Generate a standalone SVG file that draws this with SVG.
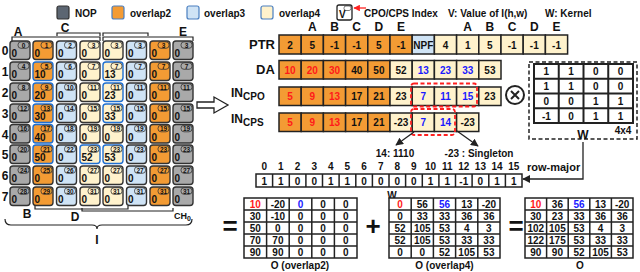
<svg xmlns="http://www.w3.org/2000/svg" width="640" height="272" viewBox="0 0 640 272">
<style>
text{font-family:"Liberation Sans",Arial,sans-serif;font-weight:bold;fill:#111}
.cell{stroke:#333;stroke-width:1.4;rx:3}
.g{fill:#A9A9A9}.o{fill:#F39B34}.b{fill:#CFE3F5}.y{fill:#FFF2CC}
.bb{stroke:#1F6FD1}
.tab{fill:none;stroke:#333;stroke-width:0.8;rx:3}
.ix{font-size:6.5px;text-anchor:middle}
.v{font-size:10px}
.lbl{font-size:12px;text-anchor:middle}
.ac{stroke:#222;stroke-width:1.5}
.at{font-size:10px;text-anchor:middle}
.red{fill:#FF1A1A}.blue{fill:#1A1AFF}
.br{fill:none;stroke:#222;stroke-width:1.2}
.rd{fill:none;stroke:#FF2020;stroke-width:1.8;stroke-dasharray:4,2.5}
.ln{fill:none;stroke:#222;stroke-width:1.3}
</style>
<defs>
<marker id="ah" viewBox="0 0 10 10" refX="9" refY="5" markerWidth="6" markerHeight="6" orient="auto"><path d="M0,0 L10,5 L0,10 z" fill="#222"/></marker>
<marker id="ahr" viewBox="0 0 10 10" refX="9" refY="5" markerWidth="5" markerHeight="5" orient="auto"><path d="M0,0 L10,5 L0,10 z" fill="#F22"/></marker>
</defs>

<g id="legend">
<rect x="57" y="6" width="12" height="13" rx="2" fill="#5C6672" stroke="#333" stroke-width="1.2"/>
<text x="75" y="16.5" font-size="10">NOP</text>
<rect x="112" y="6" width="12" height="13" rx="2" fill="#F39B34" stroke="#4A7FC0" stroke-width="1.2"/>
<text x="130" y="16.5" font-size="10">overlap2</text>
<rect x="187" y="6" width="12" height="13" rx="2" fill="#CFE3F5" stroke="#4A7FC0" stroke-width="1.2"/>
<text x="204" y="16.5" font-size="10">overlap3</text>
<rect x="261" y="6" width="12" height="13" rx="2" fill="#FFF2CC" stroke="#4A7FC0" stroke-width="1.2"/>
<text x="279" y="16.5" font-size="10">overlap4</text>
<rect x="337" y="5" width="15" height="15" rx="2" fill="#fff" stroke="#222" stroke-width="1.3"/>
<rect x="344" y="6" width="7" height="4.5" rx="2" fill="none" stroke="#222" stroke-width="0.6"/>
<text x="339" y="18" font-size="10">V</text>
<path d="M366,8 H354" fill="none" stroke="#F22" stroke-width="1.3" marker-end="url(#ahr)"/>
<text x="364" y="16.5" font-size="10">CPO/CPS Index</text>
<text x="448" y="16.5" font-size="10">V: Value of I(h,w)</text>
<text x="545" y="16.5" font-size="10">W: Kernel</text>
</g>

<g id="grid-labels">
<text class="lbl" x="18" y="36">A</text>
<text class="lbl" x="65" y="32">C</text>
<text class="lbl" x="183" y="36">E</text>
<text class="lbl" x="27" y="218">B</text>
<text class="lbl" x="75" y="221">D</text>
<text x="174" y="219" font-size="9">CH<tspan font-size="7" dy="2">0</tspan></text>
<text class="lbl" x="97" y="244">I</text>
<text class="lbl" x="5" y="55">0</text>
<text class="lbl" x="5" y="76">1</text>
<text class="lbl" x="5" y="97">2</text>
<text class="lbl" x="5" y="118">3</text>
<text class="lbl" x="5" y="138.5">4</text>
<text class="lbl" x="5" y="159">5</text>
<text class="lbl" x="5" y="180">6</text>
<text class="lbl" x="5" y="201">7</text>
<path class="br" d="M12,41 V37 H100 V41"/>
<path class="br" d="M57,36 V33 H100 V36"/>
<path class="br" d="M103,36 V33 H148 V36"/>
<path class="br" d="M103,41 V37 H193 V41"/>
<path class="br" d="M35,206 V209 H128 V206"/>
<path class="br" d="M82,208 V211 H173 V208"/>
<path class="br" d="M5,219 Q5,225 11,225 H92 Q97,225 97,229 Q97,225 102,225 H186 Q192,225 192,219"/>
</g>

<g id="grid">
<g id="c0-0" transform="translate(10,41)"><rect class="cell g" width="20" height="18.5"/><rect class="tab" x="8" y="0.8" width="11" height="6.5"/><text class="ix" x="13.5" y="6.5">0</text><text class="v" x="1.5" y="16">0</text></g>
<g id="c0-1" transform="translate(33,41)"><rect class="cell o" width="20" height="18.5"/><rect class="tab" x="8" y="0.8" width="11" height="6.5"/><text class="ix" x="13.5" y="6.5">1</text><text class="v" x="1.5" y="16">0</text></g>
<g id="c0-2" transform="translate(56.5,41)"><rect class="cell b" width="20" height="18.5"/><rect class="tab" x="8" y="0.8" width="11" height="6.5"/><text class="ix" x="13.5" y="6.5">2</text><text class="v" x="1.5" y="16">0</text></g>
<g id="c0-3" transform="translate(80,41)"><rect class="cell y" width="20" height="18.5"/><rect class="tab" x="8" y="0.8" width="11" height="6.5"/><text class="ix" x="13.5" y="6.5">3</text><text class="v" x="1.5" y="16">0</text></g>
<g id="c0-4" transform="translate(103,41)"><rect class="cell y" width="20" height="18.5"/><rect class="tab" x="8" y="0.8" width="11" height="6.5"/><text class="ix" x="13.5" y="6.5">3</text><text class="v" x="1.5" y="16">0</text></g>
<g id="c0-5" transform="translate(126.5,41)"><rect class="cell b" width="20" height="18.5"/><rect class="tab" x="8" y="0.8" width="11" height="6.5"/><text class="ix" x="13.5" y="6.5">3</text><text class="v" x="1.5" y="16">0</text></g>
<g id="c0-6" transform="translate(150,41)"><rect class="cell o" width="20" height="18.5"/><rect class="tab" x="8" y="0.8" width="11" height="6.5"/><text class="ix" x="13.5" y="6.5">3</text><text class="v" x="1.5" y="16">0</text></g>
<g id="c0-7" transform="translate(173,41)"><rect class="cell g" width="20" height="18.5"/><rect class="tab" x="8" y="0.8" width="11" height="6.5"/><text class="ix" x="13.5" y="6.5">3</text><text class="v" x="1.5" y="16">0</text></g>

<g id="c1-0" transform="translate(10,62)"><rect class="cell g" width="20" height="18.5"/><rect class="tab" x="8" y="0.8" width="11" height="6.5"/><text class="ix" x="13.5" y="6.5">4</text><text class="v" x="1.5" y="16">0</text></g>
<g id="c1-1" transform="translate(33,62)"><rect class="cell o bb" width="20" height="18.5"/><rect class="tab" x="8" y="0.8" width="11" height="6.5"/><text class="ix" x="13.5" y="6.5">5</text><text class="v" x="1.5" y="16">10</text></g>
<g id="c1-2" transform="translate(56.5,62)"><rect class="cell b" width="20" height="18.5"/><rect class="tab" x="8" y="0.8" width="11" height="6.5"/><text class="ix" x="13.5" y="6.5">6</text><text class="v" x="1.5" y="16">0</text></g>
<g id="c1-3" transform="translate(80,62)"><rect class="cell y" width="20" height="18.5"/><rect class="tab" x="8" y="0.8" width="11" height="6.5"/><text class="ix" x="13.5" y="6.5">7</text><text class="v" x="1.5" y="16">0</text></g>
<g id="c1-4" transform="translate(103,62)"><rect class="cell y bb" width="20" height="18.5"/><rect class="tab" x="8" y="0.8" width="11" height="6.5"/><text class="ix" x="13.5" y="6.5">7</text><text class="v" x="1.5" y="16">13</text></g>
<g id="c1-5" transform="translate(126.5,62)"><rect class="cell b" width="20" height="18.5"/><rect class="tab" x="8" y="0.8" width="11" height="6.5"/><text class="ix" x="13.5" y="6.5">7</text><text class="v" x="1.5" y="16">0</text></g>
<g id="c1-6" transform="translate(150,62)"><rect class="cell o" width="20" height="18.5"/><rect class="tab" x="8" y="0.8" width="11" height="6.5"/><text class="ix" x="13.5" y="6.5">7</text><text class="v" x="1.5" y="16">0</text></g>
<g id="c1-7" transform="translate(173,62)"><rect class="cell g" width="20" height="18.5"/><rect class="tab" x="8" y="0.8" width="11" height="6.5"/><text class="ix" x="13.5" y="6.5">7</text><text class="v" x="1.5" y="16">0</text></g>

<g id="c2-0" transform="translate(10,83)"><rect class="cell g" width="20" height="18.5"/><rect class="tab" x="8" y="0.8" width="11" height="6.5"/><text class="ix" x="13.5" y="6.5">8</text><text class="v" x="1.5" y="16">0</text></g>
<g id="c2-1" transform="translate(33,83)"><rect class="cell o bb" width="20" height="18.5"/><rect class="tab" x="8" y="0.8" width="11" height="6.5"/><text class="ix" x="13.5" y="6.5">9</text><text class="v" x="1.5" y="16">20</text></g>
<g id="c2-2" transform="translate(56.5,83)"><rect class="cell b" width="20" height="18.5"/><rect class="tab" x="8" y="0.8" width="11" height="6.5"/><text class="ix" x="13.5" y="6.5">10</text><text class="v" x="1.5" y="16">0</text></g>
<g id="c2-3" transform="translate(80,83)"><rect class="cell y" width="20" height="18.5"/><rect class="tab" x="8" y="0.8" width="11" height="6.5"/><text class="ix" x="13.5" y="6.5">11</text><text class="v" x="1.5" y="16">0</text></g>
<g id="c2-4" transform="translate(103,83)"><rect class="cell y bb" width="20" height="18.5"/><rect class="tab" x="8" y="0.8" width="11" height="6.5"/><text class="ix" x="13.5" y="6.5">11</text><text class="v" x="1.5" y="16">23</text></g>
<g id="c2-5" transform="translate(126.5,83)"><rect class="cell b" width="20" height="18.5"/><rect class="tab" x="8" y="0.8" width="11" height="6.5"/><text class="ix" x="13.5" y="6.5">11</text><text class="v" x="1.5" y="16">0</text></g>
<g id="c2-6" transform="translate(150,83)"><rect class="cell o" width="20" height="18.5"/><rect class="tab" x="8" y="0.8" width="11" height="6.5"/><text class="ix" x="13.5" y="6.5">11</text><text class="v" x="1.5" y="16">0</text></g>
<g id="c2-7" transform="translate(173,83)"><rect class="cell g" width="20" height="18.5"/><rect class="tab" x="8" y="0.8" width="11" height="6.5"/><text class="ix" x="13.5" y="6.5">11</text><text class="v" x="1.5" y="16">0</text></g>

<g id="c3-0" transform="translate(10,104)"><rect class="cell g" width="20" height="18.5"/><rect class="tab" x="8" y="0.8" width="11" height="6.5"/><text class="ix" x="13.5" y="6.5">12</text><text class="v" x="1.5" y="16">0</text></g>
<g id="c3-1" transform="translate(33,104)"><rect class="cell o bb" width="20" height="18.5"/><rect class="tab" x="8" y="0.8" width="11" height="6.5"/><text class="ix" x="13.5" y="6.5">13</text><text class="v" x="1.5" y="16">30</text></g>
<g id="c3-2" transform="translate(56.5,104)"><rect class="cell b" width="20" height="18.5"/><rect class="tab" x="8" y="0.8" width="11" height="6.5"/><text class="ix" x="13.5" y="6.5">14</text><text class="v" x="1.5" y="16">0</text></g>
<g id="c3-3" transform="translate(80,104)"><rect class="cell y" width="20" height="18.5"/><rect class="tab" x="8" y="0.8" width="11" height="6.5"/><text class="ix" x="13.5" y="6.5">15</text><text class="v" x="1.5" y="16">0</text></g>
<g id="c3-4" transform="translate(103,104)"><rect class="cell y bb" width="20" height="18.5"/><rect class="tab" x="8" y="0.8" width="11" height="6.5"/><text class="ix" x="13.5" y="6.5">15</text><text class="v" x="1.5" y="16">33</text></g>
<g id="c3-5" transform="translate(126.5,104)"><rect class="cell b" width="20" height="18.5"/><rect class="tab" x="8" y="0.8" width="11" height="6.5"/><text class="ix" x="13.5" y="6.5">15</text><text class="v" x="1.5" y="16">0</text></g>
<g id="c3-6" transform="translate(150,104)"><rect class="cell o" width="20" height="18.5"/><rect class="tab" x="8" y="0.8" width="11" height="6.5"/><text class="ix" x="13.5" y="6.5">15</text><text class="v" x="1.5" y="16">0</text></g>
<g id="c3-7" transform="translate(173,104)"><rect class="cell g" width="20" height="18.5"/><rect class="tab" x="8" y="0.8" width="11" height="6.5"/><text class="ix" x="13.5" y="6.5">15</text><text class="v" x="1.5" y="16">0</text></g>

<g id="c4-0" transform="translate(10,124.5)"><rect class="cell g" width="20" height="18.5"/><rect class="tab" x="8" y="0.8" width="11" height="6.5"/><text class="ix" x="13.5" y="6.5">16</text><text class="v" x="1.5" y="16">0</text></g>
<g id="c4-1" transform="translate(33,124.5)"><rect class="cell o bb" width="20" height="18.5"/><rect class="tab" x="8" y="0.8" width="11" height="6.5"/><text class="ix" x="13.5" y="6.5">17</text><text class="v" x="1.5" y="16">40</text></g>
<g id="c4-2" transform="translate(56.5,124.5)"><rect class="cell b" width="20" height="18.5"/><rect class="tab" x="8" y="0.8" width="11" height="6.5"/><text class="ix" x="13.5" y="6.5">18</text><text class="v" x="1.5" y="16">0</text></g>
<g id="c4-3" transform="translate(80,124.5)"><rect class="cell y" width="20" height="18.5"/><rect class="tab" x="8" y="0.8" width="11" height="6.5"/><text class="ix" x="13.5" y="6.5">19</text><text class="v" x="1.5" y="16">0</text></g>
<g id="c4-4" transform="translate(103,124.5)"><rect class="cell y" width="20" height="18.5"/><rect class="tab" x="8" y="0.8" width="11" height="6.5"/><text class="ix" x="13.5" y="6.5">19</text><text class="v" x="1.5" y="16">0</text></g>
<g id="c4-5" transform="translate(126.5,124.5)"><rect class="cell b" width="20" height="18.5"/><rect class="tab" x="8" y="0.8" width="11" height="6.5"/><text class="ix" x="13.5" y="6.5">19</text><text class="v" x="1.5" y="16">0</text></g>
<g id="c4-6" transform="translate(150,124.5)"><rect class="cell o" width="20" height="18.5"/><rect class="tab" x="8" y="0.8" width="11" height="6.5"/><text class="ix" x="13.5" y="6.5">19</text><text class="v" x="1.5" y="16">0</text></g>
<g id="c4-7" transform="translate(173,124.5)"><rect class="cell g" width="20" height="18.5"/><rect class="tab" x="8" y="0.8" width="11" height="6.5"/><text class="ix" x="13.5" y="6.5">19</text><text class="v" x="1.5" y="16">0</text></g>

<g id="c5-0" transform="translate(10,145)"><rect class="cell g" width="20" height="18.5"/><rect class="tab" x="8" y="0.8" width="11" height="6.5"/><text class="ix" x="13.5" y="6.5">20</text><text class="v" x="1.5" y="16">0</text></g>
<g id="c5-1" transform="translate(33,145)"><rect class="cell o bb" width="20" height="18.5"/><rect class="tab" x="8" y="0.8" width="11" height="6.5"/><text class="ix" x="13.5" y="6.5">21</text><text class="v" x="1.5" y="16">50</text></g>
<g id="c5-2" transform="translate(56.5,145)"><rect class="cell b" width="20" height="18.5"/><rect class="tab" x="8" y="0.8" width="11" height="6.5"/><text class="ix" x="13.5" y="6.5">22</text><text class="v" x="1.5" y="16">0</text></g>
<g id="c5-3" transform="translate(80,145)"><rect class="cell y bb" width="20" height="18.5"/><rect class="tab" x="8" y="0.8" width="11" height="6.5"/><text class="ix" x="13.5" y="6.5">23</text><text class="v" x="1.5" y="16">52</text></g>
<g id="c5-4" transform="translate(103,145)"><rect class="cell y bb" width="20" height="18.5"/><rect class="tab" x="8" y="0.8" width="11" height="6.5"/><text class="ix" x="13.5" y="6.5">23</text><text class="v" x="1.5" y="16">53</text></g>
<g id="c5-5" transform="translate(126.5,145)"><rect class="cell b" width="20" height="18.5"/><rect class="tab" x="8" y="0.8" width="11" height="6.5"/><text class="ix" x="13.5" y="6.5">23</text><text class="v" x="1.5" y="16">0</text></g>
<g id="c5-6" transform="translate(150,145)"><rect class="cell o" width="20" height="18.5"/><rect class="tab" x="8" y="0.8" width="11" height="6.5"/><text class="ix" x="13.5" y="6.5">23</text><text class="v" x="1.5" y="16">0</text></g>
<g id="c5-7" transform="translate(173,145)"><rect class="cell g" width="20" height="18.5"/><rect class="tab" x="8" y="0.8" width="11" height="6.5"/><text class="ix" x="13.5" y="6.5">23</text><text class="v" x="1.5" y="16">0</text></g>

<g id="c6-0" transform="translate(10,166)"><rect class="cell g" width="20" height="18.5"/><rect class="tab" x="8" y="0.8" width="11" height="6.5"/><text class="ix" x="13.5" y="6.5">24</text><text class="v" x="1.5" y="16">0</text></g>
<g id="c6-1" transform="translate(33,166)"><rect class="cell o" width="20" height="18.5"/><rect class="tab" x="8" y="0.8" width="11" height="6.5"/><text class="ix" x="13.5" y="6.5">25</text><text class="v" x="1.5" y="16">0</text></g>
<g id="c6-2" transform="translate(56.5,166)"><rect class="cell b" width="20" height="18.5"/><rect class="tab" x="8" y="0.8" width="11" height="6.5"/><text class="ix" x="13.5" y="6.5">26</text><text class="v" x="1.5" y="16">0</text></g>
<g id="c6-3" transform="translate(80,166)"><rect class="cell y" width="20" height="18.5"/><rect class="tab" x="8" y="0.8" width="11" height="6.5"/><text class="ix" x="13.5" y="6.5">27</text><text class="v" x="1.5" y="16">0</text></g>
<g id="c6-4" transform="translate(103,166)"><rect class="cell y" width="20" height="18.5"/><rect class="tab" x="8" y="0.8" width="11" height="6.5"/><text class="ix" x="13.5" y="6.5">27</text><text class="v" x="1.5" y="16">0</text></g>
<g id="c6-5" transform="translate(126.5,166)"><rect class="cell b" width="20" height="18.5"/><rect class="tab" x="8" y="0.8" width="11" height="6.5"/><text class="ix" x="13.5" y="6.5">27</text><text class="v" x="1.5" y="16">0</text></g>
<g id="c6-6" transform="translate(150,166)"><rect class="cell o" width="20" height="18.5"/><rect class="tab" x="8" y="0.8" width="11" height="6.5"/><text class="ix" x="13.5" y="6.5">27</text><text class="v" x="1.5" y="16">0</text></g>
<g id="c6-7" transform="translate(173,166)"><rect class="cell g" width="20" height="18.5"/><rect class="tab" x="8" y="0.8" width="11" height="6.5"/><text class="ix" x="13.5" y="6.5">27</text><text class="v" x="1.5" y="16">0</text></g>

<g id="c7-0" transform="translate(10,187)"><rect class="cell g" width="20" height="18.5"/><rect class="tab" x="8" y="0.8" width="11" height="6.5"/><text class="ix" x="13.5" y="6.5">28</text><text class="v" x="1.5" y="16">0</text></g>
<g id="c7-1" transform="translate(33,187)"><rect class="cell o" width="20" height="18.5"/><rect class="tab" x="8" y="0.8" width="11" height="6.5"/><text class="ix" x="13.5" y="6.5">29</text><text class="v" x="1.5" y="16">0</text></g>
<g id="c7-2" transform="translate(56.5,187)"><rect class="cell b" width="20" height="18.5"/><rect class="tab" x="8" y="0.8" width="11" height="6.5"/><text class="ix" x="13.5" y="6.5">30</text><text class="v" x="1.5" y="16">0</text></g>
<g id="c7-3" transform="translate(80,187)"><rect class="cell y" width="20" height="18.5"/><rect class="tab" x="8" y="0.8" width="11" height="6.5"/><text class="ix" x="13.5" y="6.5">31</text><text class="v" x="1.5" y="16">0</text></g>
<g id="c7-4" transform="translate(103,187)"><rect class="cell y" width="20" height="18.5"/><rect class="tab" x="8" y="0.8" width="11" height="6.5"/><text class="ix" x="13.5" y="6.5">31</text><text class="v" x="1.5" y="16">0</text></g>
<g id="c7-5" transform="translate(126.5,187)"><rect class="cell b" width="20" height="18.5"/><rect class="tab" x="8" y="0.8" width="11" height="6.5"/><text class="ix" x="13.5" y="6.5">31</text><text class="v" x="1.5" y="16">0</text></g>
<g id="c7-6" transform="translate(150,187)"><rect class="cell o" width="20" height="18.5"/><rect class="tab" x="8" y="0.8" width="11" height="6.5"/><text class="ix" x="13.5" y="6.5">31</text><text class="v" x="1.5" y="16">0</text></g>
<g id="c7-7" transform="translate(173,187)"><rect class="cell g" width="20" height="18.5"/><rect class="tab" x="8" y="0.8" width="11" height="6.5"/><text class="ix" x="13.5" y="6.5">31</text><text class="v" x="1.5" y="16">0</text></g>
</g>

<g id="hollow-arrow">
<path d="M197,102 H214 V97 L228,105 L214,113 V108 H197 Z" fill="#fff" stroke="#222" stroke-width="1.3"/>
</g>

<g id="ptr">
<text x="249" y="49" font-size="13">PTR</text>
<text class="lbl" x="312.3" y="31">A</text><text class="lbl" x="334.5" y="31">B</text><text class="lbl" x="356.7" y="31">C</text><text class="lbl" x="378.9" y="31">D</text><text class="lbl" x="401.1" y="31">E</text>
<text class="lbl" x="467.7" y="31">A</text><text class="lbl" x="489.9" y="31">B</text><text class="lbl" x="512.1" y="31">C</text><text class="lbl" x="534.3" y="31">D</text><text class="lbl" x="556.5" y="31">E</text>
<rect class="ac o" x="279" y="35" width="22.2" height="19"/><rect class="ac o" x="301.2" y="35" width="22.2" height="19"/><rect class="ac o" x="323.4" y="35" width="22.2" height="19"/><rect class="ac o" x="345.6" y="35" width="22.2" height="19"/><rect class="ac o" x="367.8" y="35" width="22.2" height="19"/><rect class="ac o" x="390" y="35" width="22.2" height="19"/>
<rect class="ac b" x="412.2" y="35" width="22.2" height="19"/>
<rect class="ac y" x="434.4" y="35" width="22.2" height="19"/><rect class="ac y" x="456.6" y="35" width="22.2" height="19"/><rect class="ac y" x="478.8" y="35" width="22.2" height="19"/><rect class="ac y" x="501" y="35" width="22.2" height="19"/><rect class="ac y" x="523.2" y="35" width="22.2" height="19"/><rect class="ac y" x="545.4" y="35" width="22.2" height="19"/>
<text class="at" x="290.1" y="48.5">2</text><text class="at" x="312.3" y="48.5">5</text><text class="at" x="334.5" y="48.5">-1</text><text class="at" x="356.7" y="48.5">-1</text><text class="at" x="378.9" y="48.5">5</text><text class="at" x="401.1" y="48.5">-1</text><text class="at" x="423.3" y="48.5">NPF</text><text class="at" x="445.5" y="48.5">4</text><text class="at" x="467.7" y="48.5">1</text><text class="at" x="489.9" y="48.5">5</text><text class="at" x="512.1" y="48.5">-1</text><text class="at" x="534.3" y="48.5">-1</text><text class="at" x="556.5" y="48.5">-1</text>
</g>

<g id="da">
<text x="256" y="74" font-size="13">DA</text>
<rect class="ac o" x="279" y="60.5" width="22.2" height="18.5"/><rect class="ac o" x="301.2" y="60.5" width="22.2" height="18.5"/><rect class="ac o" x="323.4" y="60.5" width="22.2" height="18.5"/><rect class="ac o" x="345.6" y="60.5" width="22.2" height="18.5"/><rect class="ac o" x="367.8" y="60.5" width="22.2" height="18.5"/>
<rect class="ac y" x="390" y="60.5" width="22.2" height="18.5"/><rect class="ac y" x="412.2" y="60.5" width="22.2" height="18.5"/><rect class="ac y" x="434.4" y="60.5" width="22.2" height="18.5"/><rect class="ac y" x="456.6" y="60.5" width="22.2" height="18.5"/><rect class="ac y" x="478.8" y="60.5" width="22.2" height="18.5"/>
<text class="at red" x="290.1" y="73.5">10</text><text class="at red" x="312.3" y="73.5">20</text><text class="at red" x="334.5" y="73.5">30</text><text class="at" x="356.7" y="73.5">40</text><text class="at" x="378.9" y="73.5">50</text><text class="at" x="401.1" y="73.5">52</text><text class="at blue" x="423.3" y="73.5">13</text><text class="at blue" x="445.5" y="73.5">23</text><text class="at blue" x="467.7" y="73.5">33</text><text class="at" x="489.9" y="73.5">53</text>
</g>

<g id="incpo">
<text x="231" y="97" font-size="12">IN<tspan font-size="10" dy="3">CPO</tspan></text>
<rect class="ac o" x="279" y="87" width="22.2" height="18.5"/><rect class="ac o" x="301.2" y="87" width="22.2" height="18.5"/><rect class="ac o" x="323.4" y="87" width="22.2" height="18.5"/><rect class="ac o" x="345.6" y="87" width="22.2" height="18.5"/><rect class="ac o" x="367.8" y="87" width="22.2" height="18.5"/>
<rect class="ac y" x="390" y="87" width="22.2" height="18.5"/><rect class="ac y" x="412.2" y="87" width="22.2" height="18.5"/><rect class="ac y" x="434.4" y="87" width="22.2" height="18.5"/><rect class="ac y" x="456.6" y="87" width="22.2" height="18.5"/><rect class="ac y" x="478.8" y="87" width="22.2" height="18.5"/>
<text class="at red" x="290.1" y="100">5</text><text class="at red" x="312.3" y="100">9</text><text class="at red" x="334.5" y="100">13</text><text class="at" x="356.7" y="100">17</text><text class="at" x="378.9" y="100">21</text><text class="at" x="401.1" y="100">23</text><text class="at blue" x="423.3" y="100">7</text><text class="at blue" x="445.5" y="100">11</text><text class="at blue" x="467.7" y="100">15</text><text class="at" x="489.9" y="100">23</text>
<rect class="rd" x="411" y="83.5" width="66" height="23" rx="3"/>
</g>

<g id="incps">
<text x="231" y="123" font-size="12">IN<tspan font-size="10" dy="3">CPS</tspan></text>
<rect class="ac o" x="279" y="113" width="22.2" height="18.5"/><rect class="ac o" x="301.2" y="113" width="22.2" height="18.5"/><rect class="ac o" x="323.4" y="113" width="22.2" height="18.5"/><rect class="ac o" x="345.6" y="113" width="22.2" height="18.5"/><rect class="ac o" x="367.8" y="113" width="22.2" height="18.5"/>
<rect class="ac y" x="390" y="113" width="22.2" height="18.5"/><rect class="ac y" x="412.2" y="113" width="22.2" height="18.5"/><rect class="ac y" x="434.4" y="113" width="22.2" height="18.5"/><rect class="ac y" x="456.6" y="113" width="22.2" height="18.5"/>
<text class="at red" x="290.1" y="126">5</text><text class="at red" x="312.3" y="126">9</text><text class="at red" x="334.5" y="126">13</text><text class="at" x="356.7" y="126">17</text><text class="at" x="378.9" y="126">21</text><text class="at" x="401.1" y="126">-23</text><text class="at blue" x="423.3" y="126">7</text><text class="at blue" x="445.5" y="126">14</text><text class="at" x="467.7" y="126">-23</text>
<rect class="rd" x="411" y="109" width="44" height="26" rx="3"/>
<text class="at" x="395" y="157">14: 1110</text>
<text class="at" x="479" y="157">-23 : Singleton</text>
</g>

<g id="otimes">
<circle cx="515" cy="95" r="9" fill="#fff" stroke="#222" stroke-width="2"/>
<path d="M511,91 L519,99 M519,91 L511,99" stroke="#222" stroke-width="2"/>
</g>

<g id="kernel">
<rect x="529" y="62" width="108" height="77" fill="none" stroke="#222" stroke-width="1.5" stroke-dasharray="4,2.5"/>
<rect x="534" y="64" width="99" height="59" fill="#fff" stroke="#222" stroke-width="2"/>
<path d="M558.75,64 V123 M583.5,64 V123 M608.25,64 V123 M534,78.75 H633 M534,93.5 H633 M534,108.25 H633" stroke="#222" stroke-width="2"/>
<text class="at" x="546.4" y="75.4">1</text><text class="at" x="571.1" y="75.4">1</text><text class="at" x="595.9" y="75.4">0</text><text class="at" x="620.6" y="75.4">0</text>
<text class="at" x="546.4" y="90.1">1</text><text class="at" x="571.1" y="90.1">1</text><text class="at" x="595.9" y="90.1">0</text><text class="at" x="620.6" y="90.1">0</text>
<text class="at" x="546.4" y="104.9">0</text><text class="at" x="571.1" y="104.9">0</text><text class="at" x="595.9" y="104.9">1</text><text class="at" x="620.6" y="104.9">1</text>
<text class="at" x="546.4" y="119.6">-1</text><text class="at" x="571.1" y="119.6">0</text><text class="at" x="595.9" y="119.6">1</text><text class="at" x="620.6" y="119.6">1</text>
<text class="lbl" x="583" y="139">W</text>
<text class="at" x="623" y="134">4x4</text>
</g>

<g id="rowmajor">
<text x="527" y="171" font-size="11">row-major</text>
<text class="at" x="264.3" y="170" font-size="9">0</text><text class="at" x="280.9" y="170" font-size="9">1</text><text class="at" x="297.6" y="170" font-size="9">2</text><text class="at" x="314.2" y="170" font-size="9">3</text><text class="at" x="330.8" y="170" font-size="9">4</text><text class="at" x="347.4" y="170" font-size="9">5</text><text class="at" x="364.1" y="170" font-size="9">6</text><text class="at" x="380.7" y="170" font-size="9">7</text><text class="at" x="397.3" y="170" font-size="9">8</text><text class="at" x="413.9" y="170" font-size="9">9</text><text class="at" x="430.6" y="170" font-size="9">10</text><text class="at" x="447.2" y="170" font-size="9">11</text><text class="at" x="463.8" y="170" font-size="9">12</text><text class="at" x="480.4" y="170" font-size="9">13</text><text class="at" x="497.1" y="170" font-size="9">14</text><text class="at" x="513.7" y="170" font-size="9">15</text>
<rect x="256" y="174" width="266" height="13" fill="#fff" stroke="#222" stroke-width="1.5"/>
<path d="M272.6,174 V187 M289.3,174 V187 M305.9,174 V187 M322.5,174 V187 M339.1,174 V187 M355.8,174 V187 M372.4,174 V187 M389,174 V187 M405.6,174 V187 M422.3,174 V187 M438.9,174 V187 M455.5,174 V187 M472.1,174 V187 M488.8,174 V187 M505.4,174 V187" stroke="#222" stroke-width="1.5"/>
<text class="at" x="264.3" y="184.5">1</text><text class="at" x="280.9" y="184.5">1</text><text class="at" x="297.6" y="184.5">0</text><text class="at" x="314.2" y="184.5">0</text><text class="at" x="330.8" y="184.5">1</text><text class="at" x="347.4" y="184.5">1</text><text class="at" x="364.1" y="184.5">0</text><text class="at" x="380.7" y="184.5">0</text><text class="at" x="397.3" y="184.5">0</text><text class="at" x="413.9" y="184.5">0</text><text class="at" x="430.6" y="184.5">1</text><text class="at" x="447.2" y="184.5">1</text><text class="at" x="463.8" y="184.5">-1</text><text class="at" x="480.4" y="184.5">0</text><text class="at" x="497.1" y="184.5">1</text><text class="at" x="513.7" y="184.5">1</text>
<text class="at" x="392" y="199" font-size="11">W</text>
</g>

<g id="connectors">
<path class="ln" d="M414,132 L396,145" marker-end="url(#ah)"/>
<path class="ln" d="M457,131 L478,146" marker-end="url(#ah)"/>
<path class="ln" d="M583,142 V179 H523" marker-end="url(#ah)"/>
</g>

<g id="ops">
<text x="230" y="235" font-size="26" text-anchor="middle">=</text>
<text x="373" y="235" font-size="26" text-anchor="middle">+</text>
<text x="516" y="235" font-size="26" text-anchor="middle">=</text>
</g>

<g id="o-overlap2">
<rect x="244" y="198" width="113" height="60" fill="#fff" stroke="#222" stroke-width="1.5"/>
<path d="M266.6,198 V258 M289.2,198 V258 M311.8,198 V258 M334.4,198 V258 M244,210 H357 M244,222 H357 M244,234 H357 M244,246 H357" stroke="#222" stroke-width="1.5"/>
<text class="at red" x="255.3" y="208">10</text><text class="at" x="277.9" y="208">-20</text><text class="at blue" x="300.5" y="208">0</text><text class="at" x="323.1" y="208">0</text><text class="at" x="345.7" y="208">0</text>
<text class="at" x="255.3" y="220">30</text><text class="at" x="277.9" y="220">-10</text><text class="at" x="300.5" y="220">0</text><text class="at" x="323.1" y="220">0</text><text class="at" x="345.7" y="220">0</text>
<text class="at" x="255.3" y="232">50</text><text class="at" x="277.9" y="232">0</text><text class="at" x="300.5" y="232">0</text><text class="at" x="323.1" y="232">0</text><text class="at" x="345.7" y="232">0</text>
<text class="at" x="255.3" y="244">70</text><text class="at" x="277.9" y="244">70</text><text class="at" x="300.5" y="244">0</text><text class="at" x="323.1" y="244">0</text><text class="at" x="345.7" y="244">0</text>
<text class="at" x="255.3" y="256">90</text><text class="at" x="277.9" y="256">90</text><text class="at" x="300.5" y="256">0</text><text class="at" x="323.1" y="256">0</text><text class="at" x="345.7" y="256">0</text>
<text class="at" x="300" y="269">O (overlap2)</text>
</g>

<g id="o-overlap4">
<rect x="389" y="198" width="111" height="60" fill="#fff" stroke="#222" stroke-width="1.5"/>
<path d="M411.2,198 V258 M433.4,198 V258 M455.6,198 V258 M477.8,198 V258 M389,210 H500 M389,222 H500 M389,234 H500 M389,246 H500" stroke="#222" stroke-width="1.5"/>
<text class="at red" x="400.1" y="208">0</text><text class="at" x="422.3" y="208">56</text><text class="at blue" x="444.5" y="208">56</text><text class="at" x="466.7" y="208">13</text><text class="at" x="488.9" y="208">-20</text>
<text class="at" x="400.1" y="220">0</text><text class="at" x="422.3" y="220">33</text><text class="at" x="444.5" y="220">33</text><text class="at" x="466.7" y="220">36</text><text class="at" x="488.9" y="220">36</text>
<text class="at" x="400.1" y="232">52</text><text class="at" x="422.3" y="232">105</text><text class="at" x="444.5" y="232">53</text><text class="at" x="466.7" y="232">4</text><text class="at" x="488.9" y="232">3</text>
<text class="at" x="400.1" y="244">52</text><text class="at" x="422.3" y="244">105</text><text class="at" x="444.5" y="244">53</text><text class="at" x="466.7" y="244">33</text><text class="at" x="488.9" y="244">33</text>
<text class="at" x="400.1" y="256">0</text><text class="at" x="422.3" y="256">0</text><text class="at" x="444.5" y="256">52</text><text class="at" x="466.7" y="256">105</text><text class="at" x="488.9" y="256">53</text>
<text class="at" x="444.5" y="269">O (overlap4)</text>
</g>

<g id="o-total">
<rect x="525" y="198" width="108" height="60" fill="#fff" stroke="#222" stroke-width="1.5"/>
<path d="M546.6,198 V258 M568.2,198 V258 M589.8,198 V258 M611.4,198 V258 M525,210 H633 M525,222 H633 M525,234 H633 M525,246 H633" stroke="#222" stroke-width="1.5"/>
<text class="at red" x="535.8" y="208">10</text><text class="at" x="557.4" y="208">36</text><text class="at blue" x="579" y="208">56</text><text class="at" x="600.6" y="208">13</text><text class="at" x="622.2" y="208">-20</text>
<text class="at" x="535.8" y="220">30</text><text class="at" x="557.4" y="220">23</text><text class="at" x="579" y="220">33</text><text class="at" x="600.6" y="220">36</text><text class="at" x="622.2" y="220">36</text>
<text class="at" x="535.8" y="232">102</text><text class="at" x="557.4" y="232">105</text><text class="at" x="579" y="232">53</text><text class="at" x="600.6" y="232">4</text><text class="at" x="622.2" y="232">3</text>
<text class="at" x="535.8" y="244">122</text><text class="at" x="557.4" y="244">175</text><text class="at" x="579" y="244">53</text><text class="at" x="600.6" y="244">33</text><text class="at" x="622.2" y="244">33</text>
<text class="at" x="535.8" y="256">90</text><text class="at" x="557.4" y="256">90</text><text class="at" x="579" y="256">52</text><text class="at" x="600.6" y="256">105</text><text class="at" x="622.2" y="256">53</text>
<text class="at" x="580" y="269">O</text>
</g>
</svg>
